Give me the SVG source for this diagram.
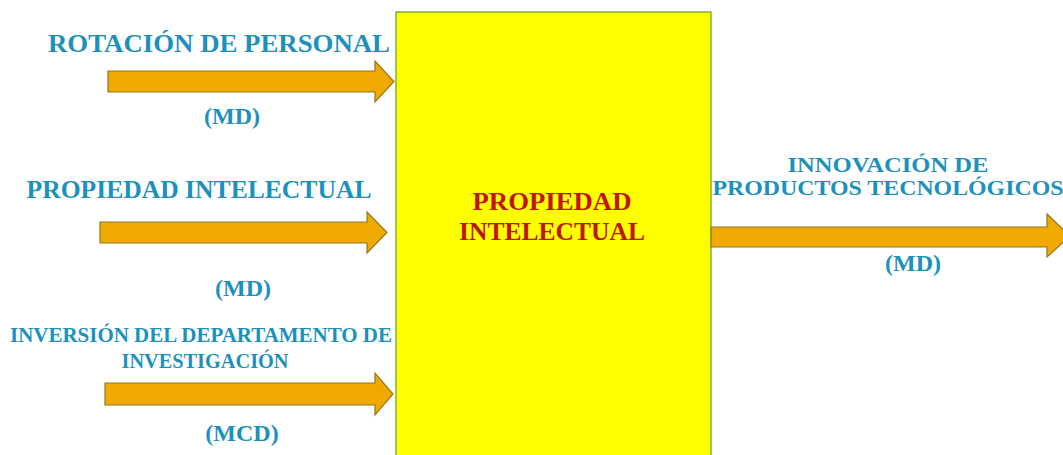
<svg xmlns="http://www.w3.org/2000/svg" width="1063" height="455" viewBox="0 0 1063 455">
<style>
.lbl{font-family:"Liberation Serif","Times New Roman",serif;font-weight:bold;fill:#1C91BC;text-anchor:middle}
.ctr{font-family:"Liberation Serif","Times New Roman",serif;font-weight:bold;fill:#BE150C;text-anchor:middle;font-size:25px}
.arr{fill:#EFA900;stroke:#8F7A20;stroke-width:1.2}
</style>
<rect width="1063" height="455" fill="#FFFFFF"/>
<g id="box">
<rect x="396" y="12" width="315" height="450" fill="#FFFF00" stroke="#5FA02A" stroke-width="1.2"/>
<text class="ctr" x="552" y="210" textLength="159" lengthAdjust="spacingAndGlyphs">PROPIEDAD</text>
<text class="ctr" x="552" y="240" textLength="186" lengthAdjust="spacingAndGlyphs">INTELECTUAL</text>
</g>
<g id="connectors">
<polygon class="arr" points="108,71 375,71 375,61 394,81.5 375,102 375,92 108,92"/>
<polygon class="arr" points="100,222 367,222 367,212 387,232.5 367,253 367,243 100,243"/>
<polygon class="arr" points="105,383 375,383 375,373 393,394 375,415 375,405 105,405"/>
<polygon class="arr" points="711,227 1047,227 1047,214 1070,236 1047,257 1047,247 711,247"/>
</g>
<g id="in1">
<text class="lbl" x="219" y="52" font-size="26" textLength="342" lengthAdjust="spacingAndGlyphs">ROTACIÓN DE PERSONAL</text>
<text class="lbl" x="232" y="124" font-size="24">(MD)</text>
</g>
<g id="in2">
<text class="lbl" x="199" y="198" font-size="26" textLength="345" lengthAdjust="spacingAndGlyphs">PROPIEDAD INTELECTUAL</text>
<text class="lbl" x="243" y="296" font-size="24">(MD)</text>
</g>
<g id="in3">
<text class="lbl" x="201" y="342" font-size="20" textLength="382" lengthAdjust="spacingAndGlyphs">INVERSIÓN DEL DEPARTAMENTO DE</text>
<text class="lbl" x="205" y="368" font-size="20" textLength="167" lengthAdjust="spacingAndGlyphs">INVESTIGACIÓN</text>
<text class="lbl" x="242" y="441" font-size="24">(MCD)</text>
</g>
<g id="out">
<text class="lbl" x="888" y="172" font-size="20" textLength="201" lengthAdjust="spacingAndGlyphs">INNOVACIÓN DE</text>
<text class="lbl" x="888" y="195" font-size="20" textLength="351" lengthAdjust="spacingAndGlyphs">PRODUCTOS TECNOLÓGICOS</text>
<text class="lbl" x="913" y="271" font-size="24">(MD)</text>
</g>
</svg>
